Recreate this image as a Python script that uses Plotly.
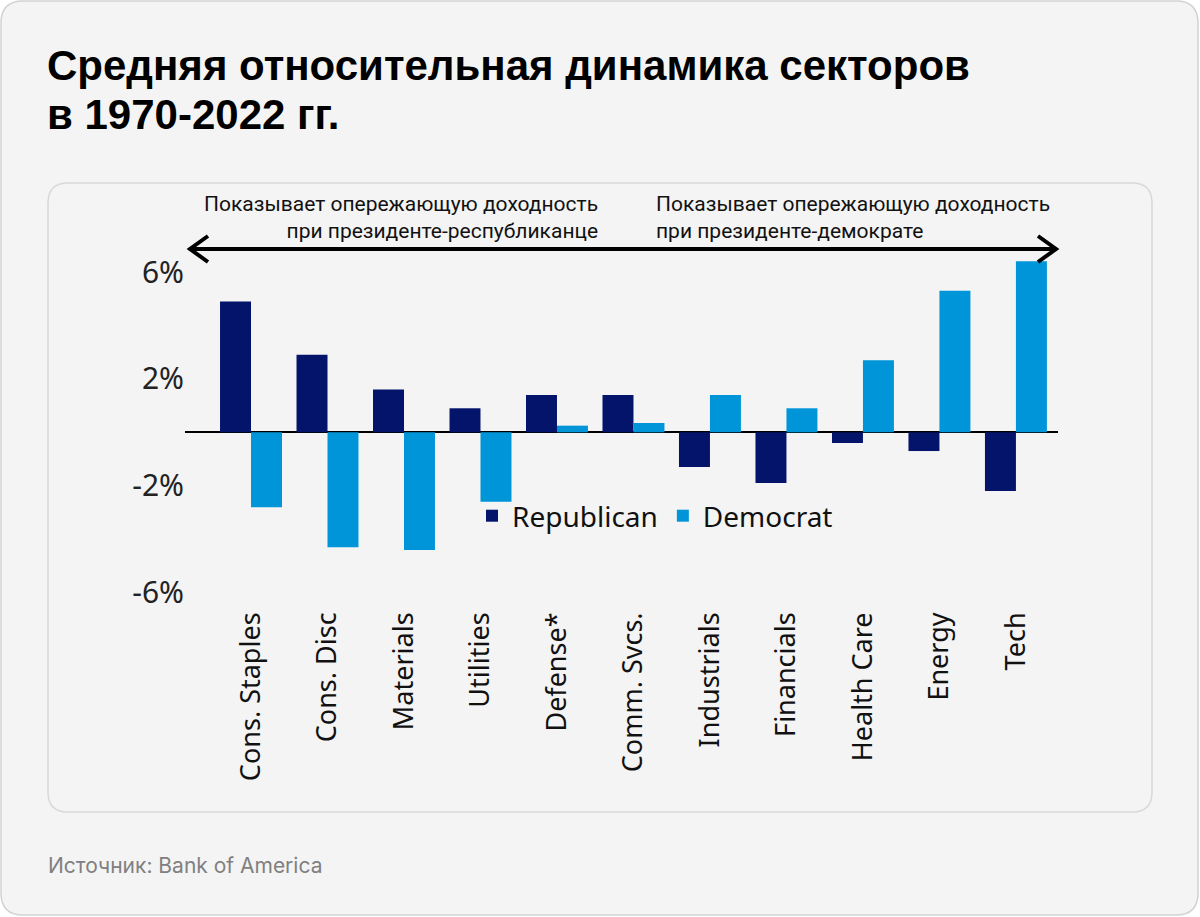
import plotly.graph_objects as go

categories = ["Cons. Staples", "Cons. Disc", "Materials", "Utilities", "Defense*",
              "Comm. Svcs.", "Industrials", "Financials", "Health Care", "Energy", "Tech"]
republican = [4.9, 2.9, 1.6, 0.9, 1.4, 1.4, -1.3, -1.9, -0.4, -0.7, -2.2]
democrat = [-2.8, -4.3, -4.4, -2.6, 0.25, 0.35, 1.4, 0.9, 2.7, 5.3, 6.4]
ytick_vals = [6, 2, -2, -6]
ytick_text = ["6%", "2%", "-2%", "-6%"]

W, H = 1200, 917
L, R, T, B = 185, 142, 256, 311
PW, PH = W - L - R, H - T - B


def px(x):
    return (x - L) / PW


def py(y):
    return (H - B - y) / PH


def rounded_rect(x0, y0, x1, y1, r):
    X0, X1 = px(x0), px(x1)
    Y0, Y1 = py(y0), py(y1)
    rx, ry = r / PW, r / PH
    return (f"M{X0+rx},{Y0} L{X1-rx},{Y0} Q{X1},{Y0} {X1},{Y0-ry} "
            f"L{X1},{Y1+ry} Q{X1},{Y1} {X1-rx},{Y1} L{X0+rx},{Y1} "
            f"Q{X0},{Y1} {X0},{Y1+ry} L{X0},{Y0-ry} Q{X0},{Y0} {X0+rx},{Y0} Z")


fig = go.Figure()
fig.add_trace(go.Bar(x=categories, y=republican, name="Republican",
                     marker=dict(color="#03146a", line=dict(width=0))))
fig.add_trace(go.Bar(x=categories, y=democrat, name="Democrat",
                     marker=dict(color="#0095d9", line=dict(width=0))))

shapes = [
    dict(type="path", xref="paper", yref="paper", path=rounded_rect(1, 1, 1198, 915, 22),
         fillcolor="#f4f4f4", line=dict(color="#d2d2d2", width=1.5), layer="below"),
    dict(type="path", xref="paper", yref="paper", path=rounded_rect(48, 183, 1152, 812, 20),
         fillcolor="#f4f4f4", line=dict(color="#d8d8d8", width=1.5), layer="below"),
    dict(type="line", xref="paper", yref="paper", x0=px(190), x1=px(1056), y0=py(249), y1=py(249),
         line=dict(color="black", width=4)),
    dict(type="path", xref="paper", yref="paper",
         path=f"M{px(208)},{py(236)} L{px(190)},{py(249)} L{px(208)},{py(262)}",
         line=dict(color="black", width=4)),
    dict(type="path", xref="paper", yref="paper",
         path=f"M{px(1038)},{py(236)} L{px(1056)},{py(249)} L{px(1038)},{py(262)}",
         line=dict(color="black", width=4)),
]

title_font = dict(family="Liberation Sans, Arial, sans-serif", size=42, color="#000")
note_font = dict(family="Roboto, sans-serif", size=21, color="#111")

annotations = [
    dict(text="<b>Средняя относительная динамика секторов</b>",
         xref="paper", yref="paper", x=px(46), y=py(90), xanchor="left", yanchor="bottom",
         align="left", showarrow=False, font=title_font, borderpad=0),
    dict(text="<b>в 1970-2022 гг.</b>",
         xref="paper", yref="paper", x=px(46), y=py(139), xanchor="left", yanchor="bottom",
         align="left", showarrow=False, font=title_font, borderpad=0),
    dict(text="Показывает опережающую доходность<br>при президенте-республиканце",
         xref="paper", yref="paper", x=px(600), y=py(190), xanchor="right", yanchor="top",
         align="right", showarrow=False, font=note_font),
    dict(text="Показывает опережающую доходность<br>при президенте-демократе",
         xref="paper", yref="paper", x=px(654), y=py(190), xanchor="left", yanchor="top",
         align="left", showarrow=False, font=note_font),
    dict(text="Источник: Bank of America",
         xref="paper", yref="paper", x=px(46), y=py(865), xanchor="left", yanchor="middle",
         align="left", showarrow=False,
         font=dict(family="Inter, sans-serif", size=21, color="#808080")),
]

fig.update_layout(
    width=W, height=H,
    margin=dict(l=L, r=R, t=T, b=B),
    paper_bgcolor="white", plot_bgcolor="rgba(0,0,0,0)",
    barmode="group", bargap=0.19, bargroupgap=0,
    shapes=shapes, annotations=annotations,
    showlegend=True,
    legend=dict(orientation="h", x=px(472), y=py(516), xanchor="left", yanchor="middle",
                bgcolor="rgba(0,0,0,0)", font=dict(family="Noto Sans, sans-serif", size=28, color="#111"),
                itemwidth=30, tracegroupgap=0),
    xaxis=dict(range=[-0.863, 10.55], tickangle=-90, showgrid=False, showline=False, ticks="",
               tickfont=dict(family="Noto Sans, sans-serif", size=27, color="#111")),
    yaxis=dict(range=[-6.5, 6.6], tickvals=ytick_vals, ticktext=ytick_text, showgrid=False,
               zeroline=True, zerolinecolor="#000", zerolinewidth=2, showline=False, ticks="",
               tickfont=dict(family="Noto Sans, sans-serif", size=30, color="#222")),
    font=dict(family="Noto Sans, sans-serif"),
)

fig.write_html("out.html", config={"displayModeBar": False},
               post_script="document.body.style.margin='0';document.body.style.overflow='hidden';")
